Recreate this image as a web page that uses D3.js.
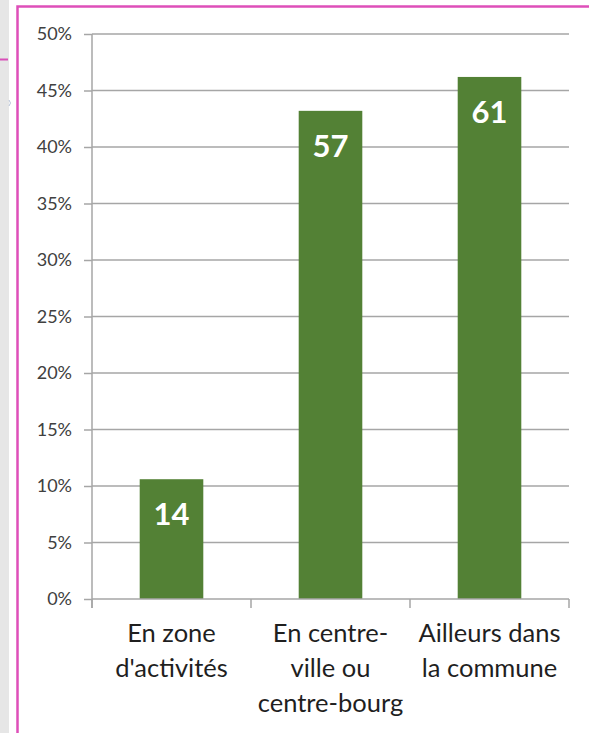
<!DOCTYPE html>
<html lang="fr">
<head>
    <meta charset="UTF-8">
    <title>bar chart</title>
    <script src="https://cdn.jsdelivr.net/npm/d3@7"></script>
    <style>
        body { margin: 0; background: #fff; }
        text { font-family: Lato, "Open Sans", sans-serif; }
    </style>
</head>
<body>
<svg width="589" height="733" xmlns="http://www.w3.org/2000/svg" id="my-svg"></svg>
<script>
    // données
    const categories = ["En zone d'activités", "En centre-ville ou centre-bourg", "Ailleurs dans la commune"];
    const labelLines = [["En zone", "d'activités"], ["En centre-", "ville ou", "centre-bourg"], ["Ailleurs dans", "la commune"]];
    const shares = [0.106, 0.432, 0.462];
    const counts = [14, 57, 61];
    const yTicks = [0, 0.05, 0.10, 0.15, 0.20, 0.25, 0.30, 0.35, 0.40, 0.45, 0.50];

    const svg = d3.select("#my-svg");

    // fond : bande grise à gauche et cadre rose
    svg.append("rect").attr("x", 0).attr("y", 0).attr("width", 9).attr("height", 733).attr("fill", "#e6e6e6");
    svg.append("line").attr("x1", 0).attr("x2", 8).attr("y1", 59.5).attr("y2", 59.5)
        .attr("stroke", "#d94fb8").attr("stroke-width", 2);
    svg.append("path").attr("d", "M 9 100 Q 12 103 9 106").attr("fill", "none").attr("stroke", "#b8c4d8");
    svg.append("path").attr("d", "M 17.5 733 L 17.5 6.5 L 589 6.5")
        .attr("fill", "none").attr("stroke", "#de4fb9").attr("stroke-width", 2.5);

    const x = d3.scaleBand().domain(categories).range([92, 569]).paddingInner(0.6).paddingOuter(0.3);
    const y = d3.scaleLinear().domain([0, 0.5]).range([599, 34]);

    // grille
    svg.append("g").selectAll("line").data(yTicks.slice(1)).join("line")
        .attr("x1", 92).attr("x2", 569)
        .attr("y1", d => y(d)).attr("y2", d => y(d))
        .attr("stroke", "#a6a6a6").attr("stroke-width", 1.5);

    // axe Y
    const yAxis = svg.append("g").attr("transform", "translate(92,0)")
        .call(d3.axisLeft(y).tickValues(yTicks).tickSize(8).tickPadding(12)
            .tickFormat(d => Math.round(d * 100) + "%"));
    yAxis.select(".domain").remove();
    yAxis.selectAll(".tick line").attr("stroke", "#a6a6a6").attr("stroke-width", 1.5);
    yAxis.selectAll(".tick text").attr("font-size", 18).attr("fill", "#404040")
        .style("font-family", "Lato, sans-serif");
    svg.append("line").attr("x1", 92).attr("x2", 92).attr("y1", y(0.5)).attr("y2", 608)
        .attr("stroke", "#a6a6a6").attr("stroke-width", 1.5);

    // barres
    svg.append("g").selectAll("rect").data(shares).join("rect")
        .attr("x", (d, i) => x(categories[i]))
        .attr("width", x.bandwidth())
        .attr("y", d => y(d))
        .attr("height", d => y(0) - y(d))
        .attr("fill", "#538135");

    svg.append("g").selectAll("text").data(counts).join("text")
        .attr("x", (d, i) => x(categories[i]) + x.bandwidth() / 2)
        .attr("y", (d, i) => y(shares[i]) + 46)
        .attr("text-anchor", "middle")
        .attr("font-size", 31).attr("font-weight", "bold").attr("fill", "#fff")
        .text(d => d);

    // axe X
    svg.append("line").attr("x1", 92).attr("x2", 569).attr("y1", 599).attr("y2", 599)
        .attr("stroke", "#a6a6a6").attr("stroke-width", 1.5);
    const bounds = categories.map(c => x(c) - x.step() * x.paddingInner() / 2).concat([569]);
    svg.append("g").selectAll("line").data(bounds).join("line")
        .attr("x1", d => d).attr("x2", d => d).attr("y1", 599).attr("y2", 608)
        .attr("stroke", "#a6a6a6").attr("stroke-width", 1.5);

    const lab = svg.append("g").selectAll("text").data(labelLines).join("text")
        .attr("text-anchor", "middle")
        .attr("font-size", 25.5).attr("fill", "#1f1f1f")
        .attr("transform", (d, i) => `translate(${x(categories[i]) + x.bandwidth() / 2},0)`);
    lab.selectAll("tspan").data(d => d).join("tspan")
        .attr("x", 0).attr("y", (d, j) => 642 + j * 35)
        .text(d => d);
</script>
</body>
</html>
